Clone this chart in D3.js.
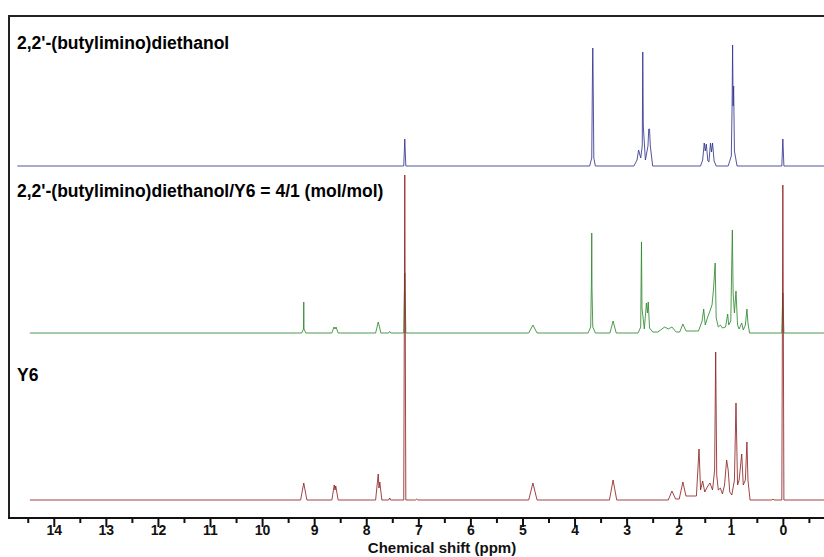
<!DOCTYPE html>
<html>
<head>
<meta charset="utf-8">
<script src="https://cdn.jsdelivr.net/npm/d3@7"></script>
<style>
  body { margin: 0; background: #fff; }
  svg { display: block; font-family: "Liberation Sans", Arial, sans-serif; }
  .lbl { font-weight: bold; font-size: 17.5px; fill: #000; }
  .title { font-weight: bold; font-size: 15px; fill: #111; }
  .axis text { font-weight: bold; font-size: 14px; fill: #111; font-family: "Liberation Sans", Arial, sans-serif; }
</style>
</head>
<body>
<svg id="chart" width="824" height="557"></svg>
<script>
// spectra: [ppm, intensity (a.u.)], left (high ppm) to right
const butylimino = [
  [14.70, 0], [7.28, 0], [7.26, 27], [7.24, 0],
  [3.71, 0], [3.67, 8], [3.655, 100], [3.65, 118], [3.645, 100], [3.63, 8], [3.60, 0],
  [2.86, 0], [2.80, 6], [2.77, 16], [2.73, 8], [2.70, 20], [2.69, 114], [2.68, 40], [2.64, 6],
  [2.59, 20], [2.575, 37], [2.56, 37], [2.545, 20], [2.50, 0],
  [1.58, 0], [1.54, 6], [1.51, 23], [1.49, 15], [1.47, 22], [1.44, 5], [1.42, 4],
  [1.39, 23], [1.37, 14], [1.35, 23], [1.32, 5], [1.28, 0],
  [1.05, 0], [0.99, 10], [0.975, 60], [0.965, 121], [0.955, 60], [0.945, 80], [0.93, 15], [0.88, 0],
  [0.02, 0], [0.0, 27], [-0.02, 0], [-0.80, 0]
];

const mixture = [
  [14.46, 0], [9.24, 0], [9.205, 4], [9.20, 31], [9.195, 4], [9.16, 0],
  [8.66, 0], [8.62, 6], [8.60, 4], [8.58, 6], [8.54, 0],
  [7.82, 0], [7.77, 11], [7.75, 7], [7.72, 0],
  [7.57, 0], [7.55, 1.5], [7.53, 0],
  [7.28, 0], [7.26, 60], [7.24, 0],
  [4.88, 0], [4.80, 8], [4.72, 0],
  [3.74, 0], [3.69, 6], [3.675, 55], [3.67, 100], [3.665, 45], [3.65, 6], [3.60, 0],
  [3.32, 0], [3.26, 12], [3.20, 0],
  [2.78, 0], [2.73, 6], [2.715, 91], [2.705, 25], [2.66, 4], [2.62, 30], [2.60, 20], [2.585, 31], [2.56, 5],
  [2.50, 1], [2.40, 1], [2.27, 6], [2.20, 4], [2.13, 6], [2.05, 1],
  [1.98, 1], [1.92, 9], [1.86, 2],
  [1.62, 2], [1.55, 12], [1.52, 24], [1.49, 8], [1.45, 15], [1.40, 22], [1.36, 28], [1.33, 45],
  [1.30, 70], [1.28, 15], [1.24, 6], [1.20, 8], [1.16, 5],
  [1.10, 6], [1.06, 19], [1.04, 8], [1.00, 12], [0.97, 103], [0.955, 40], [0.93, 20], [0.90, 42],
  [0.87, 8], [0.84, 4], [0.79, 10], [0.76, 3], [0.72, 8], [0.69, 24], [0.67, 10], [0.64, 0],
  [0.02, 0], [0.0, 40], [-0.02, 0], [-0.80, 0]
];

const y6 = [
  [14.46, 0], [9.26, 0], [9.20, 17], [9.14, 0],
  [8.66, 0], [8.615, 15], [8.60, 10], [8.585, 14], [8.54, 0],
  [7.82, 0], [7.77, 26], [7.755, 12], [7.74, 18], [7.70, 0],
  [7.57, 0], [7.55, 2], [7.53, 0],
  [7.28, 0], [7.26, 325], [7.24, 0],
  [7.05, 0], [7.03, 1], [7.01, 0],
  [4.88, 0], [4.80, 17], [4.72, 0],
  [3.33, 0], [3.26, 20], [3.19, 0],
  [2.20, 0], [2.13, 9], [2.06, 1], [1.99, 1], [1.92, 18], [1.86, 4],
  [1.66, 4], [1.61, 51], [1.58, 10], [1.54, 19], [1.50, 8], [1.44, 14], [1.40, 17], [1.35, 10],
  [1.31, 30], [1.29, 148], [1.27, 25], [1.24, 10], [1.20, 12], [1.16, 6], [1.12, 15], [1.08, 40],
  [1.05, 30], [1.02, 8], [0.98, 5], [0.93, 20], [0.90, 97], [0.87, 15], [0.84, 20], [0.79, 46],
  [0.76, 15], [0.72, 20], [0.69, 58], [0.67, 20], [0.63, 0],
  [0.21, 0], [0.19, 1], [0.17, 0],
  [0.02, 0], [0.0, 315], [-0.02, 0], [-0.80, 0]
];

const labels = [
  "2,2'-(butylimino)diethanol",
  "2,2'-(butylimino)diethanol/Y6 = 4/1 (mol/mol)",
  "Y6"
];
const majorTicks = [14, 13, 12, 11, 10, 9, 8, 7, 6, 5, 4, 3, 2, 1, 0];
const minorTicks = [14.5, 13.5, 12.5, 11.5, 10.5, 9.5, 8.5, 7.5, 6.5, 5.5, 4.5, 3.5, 2.5, 1.5, 0.5, -0.5];
const axisTitle = "Chemical shift (ppm)";

const svg = d3.select("#chart");
const frameL = 9, frameR = 824, frameT = 16, axisY = 518;

const x = d3.scaleLinear().domain([14.86, -0.79]).range([frameL, frameR]);
const amp = d3.scaleLinear().domain([0, 330]).range([0, 330]);

const panels = [
  { data: butylimino, base: 166, color: "#33368e", label: labels[0], ly: 49 },
  { data: mixture, base: 333, color: "#2f8a2f", label: labels[1], ly: 197 },
  { data: y6, base: 500, color: "#8f2525", label: labels[2], ly: 381 }
];

panels.forEach(p => {
  const line = d3.line().x(d => x(d[0])).y(d => p.base - amp(d[1]));
  svg.append("path").datum(p.data)
    .attr("fill", "none").attr("stroke", p.color).attr("stroke-width", 1)
    .attr("stroke-opacity", 0.85).attr("d", line);
  svg.append("text").attr("class", "lbl").attr("x", 17).attr("y", p.ly).text(p.label);
});

// frame
svg.append("line").attr("x1", frameL).attr("x2", frameR).attr("y1", frameT).attr("y2", frameT)
  .attr("stroke", "#222").attr("stroke-width", 2);
svg.append("line").attr("x1", frameL).attr("x2", frameL).attr("y1", frameT - 1).attr("y2", axisY)
  .attr("stroke", "#222").attr("stroke-width", 2);

// axis
const gMinor = svg.append("g").attr("class", "axis").attr("transform", `translate(0,${axisY})`)
  .call(d3.axisBottom(x).tickValues(minorTicks).tickSize(5).tickSizeOuter(0).tickFormat(""));
gMinor.select(".domain").remove();
gMinor.selectAll("line").attr("stroke", "#111").attr("stroke-width", 2);

const gMajor = svg.append("g").attr("class", "axis").attr("transform", `translate(0,${axisY})`)
  .call(d3.axisBottom(x).tickValues(majorTicks).tickSize(9).tickSizeOuter(0).tickPadding(-1.5).tickFormat(d3.format("d")));
gMajor.select(".domain").attr("stroke", "#111").attr("stroke-width", 2)
  .attr("d", `M${frameL - 1},0H${frameR}`);
gMajor.selectAll("line").attr("stroke", "#111").attr("stroke-width", 2);

svg.append("text").attr("class", "title").attr("x", 442).attr("y", 553)
  .attr("text-anchor", "middle").text(axisTitle);
</script>
</body>
</html>
